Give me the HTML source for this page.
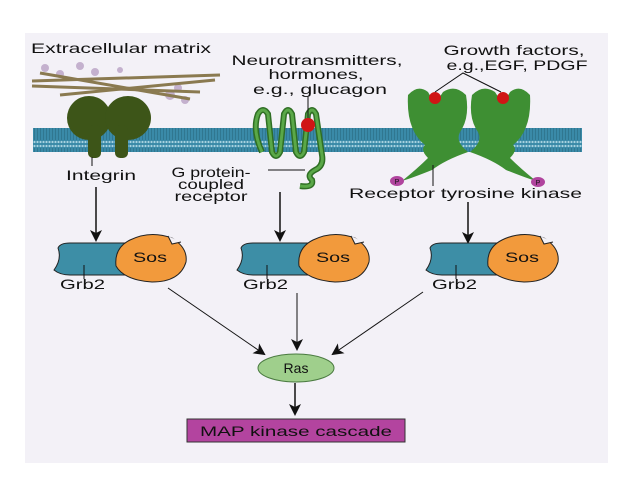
<!DOCTYPE html>
<html><head><meta charset="utf-8"><style>
body{margin:0;width:638px;height:479px;background:#fff;overflow:hidden}
svg{display:block}
text{font-family:"Liberation Sans",sans-serif;fill:#111}
</style></head><body>
<svg width="638" height="479" viewBox="0 0 638 479">
<defs>
<marker id="a" markerWidth="12" markerHeight="12" refX="10" refY="6" orient="auto" markerUnits="userSpaceOnUse"><path d="M0,0 L12,6 L0,12 L3,6z" fill="#111"/></marker>
<pattern id="mem" width="3" height="24" patternUnits="userSpaceOnUse"><rect width="3" height="24" fill="#3a8aa8"/><circle cx="1.5" cy="2" r="1.1" fill="#a9d2e0"/><circle cx="1.5" cy="22" r="1.1" fill="#a9d2e0"/><line x1="1.5" y1="4" x2="1.5" y2="20" stroke="#2c6f86" stroke-width="0.7"/></pattern>
</defs>
<rect x="25" y="33" width="583" height="430" fill="#f3f1f7"/>
<!-- membrane -->
<rect x="33" y="128" width="549" height="24" fill="url(#mem)"/>
<!-- ECM -->
<g fill="#b9a2c4" opacity=".8"><circle cx="45" cy="68" r="4"/><circle cx="60" cy="74" r="4"/><circle cx="80" cy="66" r="4"/><circle cx="95" cy="72" r="4"/><circle cx="170" cy="95" r="5"/><circle cx="185" cy="100" r="4"/><circle cx="178" cy="88" r="4"/><circle cx="120" cy="70" r="3"/></g>
<g stroke="#8a7a50" stroke-width="3">
<line x1="32" y1="81" x2="220" y2="75"/><line x1="32" y1="86" x2="200" y2="92"/><line x1="40" y1="73" x2="190" y2="99"/><line x1="60" y1="95" x2="215" y2="80"/></g>
<text x="31" y="53" font-size="14" textLength="180" lengthAdjust="spacingAndGlyphs">Extracellular matrix</text>
<!-- integrin -->
<g fill="#3d5518"><ellipse cx="89" cy="118" rx="22" ry="22"/><ellipse cx="128" cy="118" rx="23" ry="22"/><rect x="88" y="125" width="13" height="33" rx="5"/><rect x="115" y="125" width="13" height="33" rx="5"/></g>
<line x1="92" y1="157" x2="92" y2="166" stroke="#111"/>
<text x="66" y="180" font-size="14" textLength="70" lengthAdjust="spacingAndGlyphs">Integrin</text>
<line x1="96" y1="187" x2="96" y2="240" stroke="#111" stroke-width="1.5" marker-end="url(#a)"/>
<!-- GPCR -->
<path d="M262,152 Q252,130 258,114 Q263,106 268,114 L272,152 Q276,160 280,152 L284,114 Q288,106 292,114 L296,152 Q300,160 304,152 L308,114 Q312,106 316,114 L322,155 Q324,166 315,170 Q306,175 312,180 Q314,188 300,186" fill="none" stroke="#2f6e24" stroke-width="6"/>
<path d="M262,152 Q252,130 258,114 Q263,106 268,114 L272,152 Q276,160 280,152 L284,114 Q288,106 292,114 L296,152 Q300,160 304,152 L308,114 Q312,106 316,114 L322,155 Q324,166 315,170 Q306,175 312,180 Q314,188 300,186" fill="none" stroke="#5aa848" stroke-width="3"/>
<circle cx="308" cy="125" r="7" fill="#d01515"/>
<line x1="308" y1="97" x2="308" y2="118" stroke="#111"/>
<text x="317" y="65" font-size="14" text-anchor="middle" textLength="171" lengthAdjust="spacingAndGlyphs">Neurotransmitters,</text>
<text x="316" y="79" font-size="14" text-anchor="middle" textLength="95" lengthAdjust="spacingAndGlyphs">hormones,</text>
<text x="320" y="94" font-size="14" text-anchor="middle" textLength="134" lengthAdjust="spacingAndGlyphs">e.g., glucagon</text>
<line x1="268" y1="170" x2="305" y2="170" stroke="#111"/>
<text x="211" y="177" font-size="14" text-anchor="middle" textLength="79" lengthAdjust="spacingAndGlyphs">G protein-</text>
<text x="211" y="189" font-size="14" text-anchor="middle" textLength="66" lengthAdjust="spacingAndGlyphs">coupled</text>
<text x="211" y="201" font-size="14" text-anchor="middle" textLength="73" lengthAdjust="spacingAndGlyphs">receptor</text>
<line x1="280" y1="192" x2="280" y2="240" stroke="#111" stroke-width="1.5" marker-end="url(#a)"/>
<!-- RTK -->
<g id="rl" fill="#3e8f33"><path d="M408,95 Q418,84 428,92 Q435,106 443,92 Q455,84 466,95 Q470,118 460,132 Q455,142 468,152 Q445,160 432,170 Q412,178 402,181 Q418,168 428,158 Q420,150 425,145 Q406,130 408,95z"/></g>
<use href="#rl" transform="translate(938,0) scale(-1,1)"/>
<circle cx="435" cy="98" r="6" fill="#d01515"/><circle cx="503" cy="98" r="6" fill="#d01515"/>
<polyline points="435,92 463,73 501,92" fill="none" stroke="#111"/>
<text x="514" y="55" font-size="14" text-anchor="middle" textLength="141" lengthAdjust="spacingAndGlyphs">Growth factors,</text>
<text x="517" y="70" font-size="14" text-anchor="middle" textLength="141" lengthAdjust="spacingAndGlyphs">e.g.,EGF, PDGF</text>
<ellipse cx="397" cy="181" rx="7" ry="5" fill="#b0449e"/><ellipse cx="538" cy="182" rx="7" ry="5" fill="#b0449e"/>
<text x="397" y="184" font-size="7" text-anchor="middle">P</text><text x="538" y="185" font-size="7" text-anchor="middle">P</text>
<line x1="433" y1="165" x2="433" y2="186" stroke="#111"/>
<text x="349" y="198" font-size="14" textLength="233" lengthAdjust="spacingAndGlyphs">Receptor tyrosine kinase</text>
<line x1="468" y1="202" x2="468" y2="242" stroke="#111" stroke-width="1.5" marker-end="url(#a)"/>
<!-- Grb2/Sos -->
<g id="gs">
<path d="M58,248 Q60,243 70,243 L140,243 L140,275 L70,275 Q60,275 54,270 Q62,259 58,248z" fill="#3d8ea6" stroke="#222"/>
<path d="M130,240 Q150,230 172,238 Q188,248 186,262 Q180,282 152,282 Q124,280 116,266 Q114,248 130,240z" fill="#f29a3c" stroke="#222"/>
<path d="M168,236 l4,8 l9,-2" fill="#f3f1f7" stroke="#222"/>
<text x="150" y="262" font-size="14" text-anchor="middle" textLength="34" lengthAdjust="spacingAndGlyphs">Sos</text>
<line x1="84" y1="265" x2="84" y2="279" stroke="#111"/>
<text x="60" y="289" font-size="14" textLength="45" lengthAdjust="spacingAndGlyphs">Grb2</text>
</g>
<use href="#gs" x="183"/><use href="#gs" x="372"/>
<!-- arrows to Ras -->
<line x1="168" y1="288" x2="264" y2="354" stroke="#111" marker-end="url(#a)"/>
<line x1="297" y1="293" x2="297" y2="349" stroke="#111" marker-end="url(#a)"/>
<line x1="423" y1="292" x2="333" y2="354" stroke="#111" marker-end="url(#a)"/>
<ellipse cx="296" cy="368" rx="38" ry="14" fill="#9fcf8c" stroke="#4a7a40"/>
<text x="296" y="373" font-size="14" text-anchor="middle">Ras</text>
<line x1="295" y1="383" x2="295" y2="414" stroke="#111" stroke-width="1.5" marker-end="url(#a)"/>
<rect x="187" y="419" width="218" height="23" fill="#b3449f" stroke="#333"/>
<text x="296" y="436" font-size="14" text-anchor="middle" textLength="192" lengthAdjust="spacingAndGlyphs">MAP kinase cascade</text>
</svg>
</body></html>
